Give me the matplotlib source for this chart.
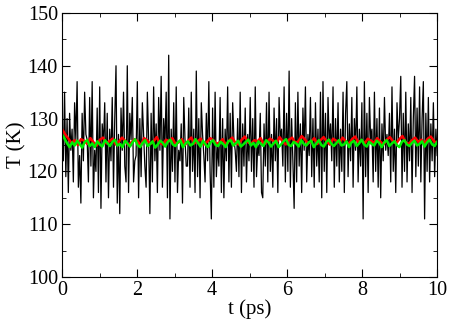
import numpy as np
import matplotlib
matplotlib.use("Agg")
import matplotlib.pyplot as plt
from matplotlib.ticker import MultipleLocator

# instantaneous temperature (black)
temp_inst = [
    127, 122, 135, 119, 130, 116, 131, 124, 128, 118,
    133, 126, 137, 117, 123, 114, 131, 122, 135, 127,
    126, 118, 134, 121, 137, 115, 124, 120, 132, 116,
    136, 113, 129, 125, 133, 118, 131, 115, 128, 122,
    134, 117, 130, 140, 114, 127, 112, 132, 124, 135,
    121, 118, 140, 116, 131, 126, 134, 118, 122, 123,
    137, 115, 130, 119, 133, 127, 121, 117, 135, 126,
    112, 131, 118, 136, 122, 129, 116, 134, 124, 138,
    117, 130, 125, 135, 115, 142, 111, 128, 120, 133,
    118, 136, 116, 124, 122, 129, 114, 134, 126, 121,
    121, 132, 117, 135, 120, 128, 116, 139, 119, 130,
    115, 133, 127, 123, 118, 131, 122, 137, 120, 111,
    132, 117, 135, 119, 125, 121, 134, 116, 130, 115,
    128, 122, 136, 118, 131, 117, 133, 126, 124, 120,
    130, 119, 135, 116, 129, 121, 132, 118, 127, 122,
    134, 120, 130, 117, 136, 119, 125, 123, 131, 116,
    115, 129, 121, 133, 118, 135, 120, 127, 117, 132,
    122, 130, 116, 134, 126, 128, 121, 136, 118, 131,
    120, 139, 117, 130, 122, 113, 133, 118, 135, 121,
    129, 116, 132, 124, 136, 118, 127, 123, 134, 119,
    130, 117, 133, 121, 128, 118, 135, 115, 137, 120,
    131, 116, 134, 125, 129, 122, 136, 117, 130, 121,
    133, 118, 128, 120, 135, 116, 131, 137, 119, 129,
    122, 134, 117, 130, 124, 136, 118, 128, 121, 133,
    111, 137, 119, 131, 116, 134, 126, 128, 118, 135,
    120, 130, 117, 132, 115, 129, 122, 134, 124, 127,
    123, 131, 118, 136, 120, 128, 116, 133, 126, 130,
    138, 117, 131, 120, 135, 118, 129, 122, 134, 116,
    130, 138, 119, 132, 121, 136, 118, 130, 137, 111,
    131, 120, 134, 118, 129, 122, 133, 119, 128, 123,
]

# red series
temp_red = [
    128.0, 127.0, 126.2, 125.4, 125.9, 125.0, 126.1, 125.8, 125.2, 126.3,
    125.5, 124.9, 126.0, 126.4, 125.3, 125.7, 126.2, 125.1, 125.6, 126.4,
    125.8, 125.0, 125.5, 126.1, 125.7, 124.9, 126.3, 125.9, 125.2, 125.6,
    126.5, 125.4, 125.1, 126.0, 125.7, 126.3, 125.2, 125.5, 126.1, 125.0,
    125.8, 126.4, 125.3, 125.7, 126.2, 125.1, 125.6, 126.3, 125.9, 125.2,
    125.5, 126.1, 125.0, 125.8, 126.4, 125.4, 125.1, 126.0, 126.6, 125.5,
    125.2, 125.9, 125.7, 126.3, 125.1, 125.6, 126.2, 125.8, 125.3, 126.5,
    125.7, 125.1, 126.0, 126.4, 125.4, 125.7, 126.7, 126.1, 125.3, 125.6,
    126.3, 125.2, 125.9, 126.5, 125.6, 125.1, 126.2, 125.8, 125.4, 126.4,
    125.7, 125.2, 126.1, 126.6, 125.5, 125.9, 125.3, 126.2, 125.8, 125.4,
    126.3, 125.6, 125.1, 126.0, 126.5, 125.7, 125.3, 126.1, 126.7, 125.5,
    125.2, 125.9, 126.4, 125.6, 126.0, 125.3, 126.2, 126.6, 125.7, 125.4,
]

# green series
temp_green = [
    127.0, 126.2, 125.3, 124.6, 125.5, 124.9, 125.8, 125.2, 124.5, 125.6,
    125.9, 124.8, 125.3, 124.6, 125.7, 125.1, 124.7, 125.9, 125.4, 124.8,
    125.6, 126.0, 124.9, 125.2, 124.6, 125.8, 125.3, 124.7, 125.5, 126.1,
    125.0, 124.6, 125.4, 125.9, 124.8, 125.2, 125.7, 124.5, 125.1, 125.8,
    125.4, 124.7, 125.6, 126.0, 125.1, 124.8, 125.5, 125.9, 124.6, 125.3,
    125.7, 124.9, 125.2, 126.1, 125.4, 124.7, 125.8, 125.1, 124.6, 125.5,
    125.9, 125.0, 124.8, 125.6, 125.2, 124.6, 125.7, 125.9, 124.9, 125.3,
    125.8, 124.7, 125.1, 125.6, 126.0, 124.9, 125.4, 124.6, 125.7, 125.2,
    124.8, 125.9, 125.5, 124.7, 125.3, 125.8, 124.6, 125.1, 125.7, 126.1,
    125.0, 124.8, 125.6, 125.3, 124.7, 125.9, 125.2, 124.9, 125.5, 125.8,
    124.6, 125.3, 125.9, 125.0, 124.7, 125.6, 126.0, 125.2, 124.8, 125.4,
    125.9, 124.9, 125.1, 125.7, 124.6, 125.5, 125.8, 124.8, 125.3, 126.0,
    125.1, 124.7, 125.6, 125.2, 124.9, 125.8, 125.4, 124.6, 125.5, 125.9,
    124.8, 125.3, 125.7, 125.0, 124.6, 125.6, 125.9, 125.1, 124.8, 125.4,
    125.8, 124.9, 125.2, 125.7, 124.7, 125.5, 126.0, 125.1, 124.8, 125.6,
]

t_inst = np.linspace(0, 10, len(temp_inst))
t_red = np.linspace(0, 10, len(temp_red))
t_green = np.linspace(0, 10, len(temp_green))

plt.rcParams['font.family'] = ['Liberation Serif', 'DejaVu Serif']

fig = plt.figure(figsize=(4.53, 3.24), dpi=100)
ax = fig.add_axes([0.137, 0.145, 0.828, 0.815])

ax.plot(t_inst, temp_inst, color='black', lw=0.9)
ax.plot(t_red, temp_red, color='red', lw=1.8)
ax.plot(t_green, temp_green, color='#00ee00', lw=1.8)

ax.set_xlim(0, 10)
ax.set_ylim(100, 150)
ax.xaxis.set_major_locator(MultipleLocator(2))
ax.xaxis.set_minor_locator(MultipleLocator(1))
ax.yaxis.set_major_locator(MultipleLocator(10))
ax.yaxis.set_minor_locator(MultipleLocator(5))
ax.tick_params(which='both', direction='in', top=True, right=True, labelsize=14.5)
ax.tick_params(axis='x', pad=3)
ax.tick_params(axis='y', pad=3)
ax.tick_params(which='major', length=6)
ax.tick_params(which='minor', length=3)
ax.set_xlabel("t (ps)", fontsize=15, labelpad=-1)
ax.set_ylabel("T (K)", fontsize=15, labelpad=1)

plt.savefig("out.png", dpi=100)
plt.close()
